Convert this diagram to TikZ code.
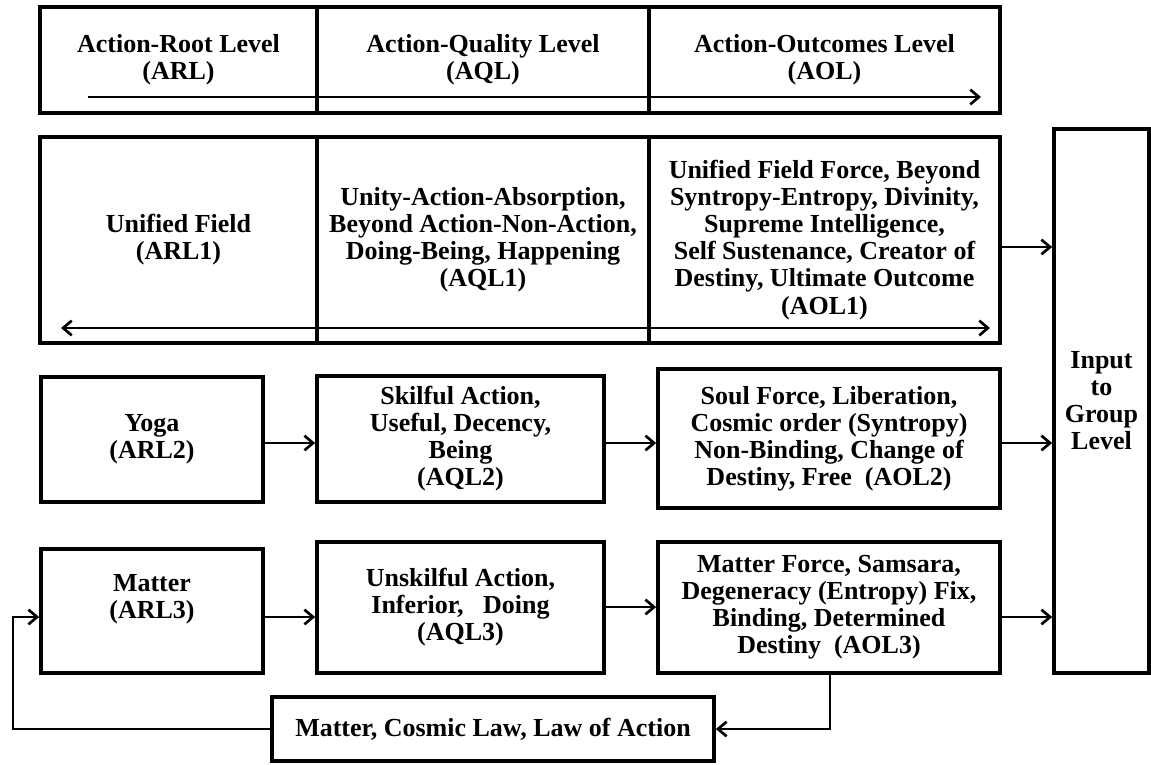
\documentclass[tikz,border=0pt]{standalone}
\usepackage{fontspec}
\setmainfont{Liberation Serif}
\usetikzlibrary{arrows.meta}
\newcommand\placebox[6]{\node[box, minimum width={(#4-#2)*0.75pt}, minimum height={(#5-#3)*0.75pt}] (#1) at ({(#2+#4)/2},{(#3+#5)/2}) {#6};}
\begin{document}
\begin{tikzpicture}[x=0.75pt,y=-0.75pt,
  txt/.style={align=center, inner sep=0pt, font=\bfseries\fontsize{19.5}{20.3}\selectfont},
  box/.style={txt, draw, line width=2.8pt},
  barb/.tip={Straight Barb[length=6.5pt,width=11pt,line width=2pt]},
  conn/.style={line width=2pt, -barb},
  conntwo/.style={line width=2pt, barb-barb}]
\useasboundingbox (0,0) rectangle (1151,764);
% header row
\placebox{arl}{40}{7}{317}{113}{Action-Root Level\\(ARL)}
\placebox{aql}{317}{7}{649}{113}{Action-Quality Level\\(AQL)}
\placebox{aol}{649}{7}{1000}{113}{Action-Outcomes Level\\(AOL)}
% unified field row
\placebox{arla}{40}{137}{317}{343}{Unified Field\\(ARL1)}
\placebox{aqla}{317}{137}{649}{343}{Unity-Action-Absorption,\\Beyond Action-Non-Action,\\Doing-Being, Happening\\(AQL1)}
\placebox{aola}{649}{137}{1000}{343}{Unified Field Force, Beyond\\Syntropy-Entropy, Divinity,\\Supreme Intelligence,\\Self Sustenance, Creator of\\Destiny, Ultimate Outcome\\(AOL1)}
% yoga row
\placebox{arlb}{41}{377}{263}{502}{Yoga\\(ARL2)}
\placebox{aqlb}{317}{376}{604}{502}{Skilful Action,\\Useful, Decency,\\Being\\(AQL2)}
\placebox{aolb}{658}{369}{1000}{508}{Soul Force, Liberation,\\Cosmic order (Syntropy)\\Non-Binding, Change of\\Destiny, Free~~(AOL2)}
% matter row
\placebox{arlc}{41}{549}{263}{673}{}
\node[txt] (arlctext) at (152,599) {Matter\\(ARL3)};
\placebox{aqlc}{317}{542}{604}{673}{Unskilful Action,\\Inferior,~~ Doing\\(AQL3)}
\placebox{aolc}{658}{542}{1000}{673}{Matter Force, Samsara,\\Degeneracy (Entropy) Fix,\\Binding, Determined\\Destiny~~(AOL3)}
% bottom and right
\placebox{law}{272}{697}{714}{761}{Matter, Cosmic Law, Law of Action}
\placebox{input}{1054}{129}{1149}{673}{Input\\to\\Group\\Level}
% helper coordinates
\coordinate (ta) at (88,97);
\coordinate (tb) at (981,97);
\coordinate (da) at (61,328);
\coordinate (db) at (990,328);
\coordinate (r1) at (0,247);
\coordinate (r2) at (0,443);
\coordinate (r3) at (0,617);
\coordinate (r3b) at (0,607);
\coordinate (fb) at (13,617);
\coordinate (dn) at (830,0);
% connectors
\draw[conn] (ta) -- (tb);
\draw[conntwo] (da) -- (db);
\draw[conn] (aola.east |- r1) -- (input.west |- r1);
\draw[conn] (arlb.east |- r2) -- (aqlb.west |- r2);
\draw[conn] (aqlb.east |- r2) -- (aolb.west |- r2);
\draw[conn] (aolb.east |- r2) -- (input.west |- r2);
\draw[conn] (arlc.east |- r3) -- (aqlc.west |- r3);
\draw[conn] (aqlc.east |- r3b) -- (aolc.west |- r3b);
\draw[conn] (aolc.east |- r3) -- (input.west |- r3);
\draw[conn] (dn |- aolc.south) |- (law.east);
\draw[conn] (law.west) -| (fb) -- (arlc.west |- fb);
\end{tikzpicture}
\end{document}
